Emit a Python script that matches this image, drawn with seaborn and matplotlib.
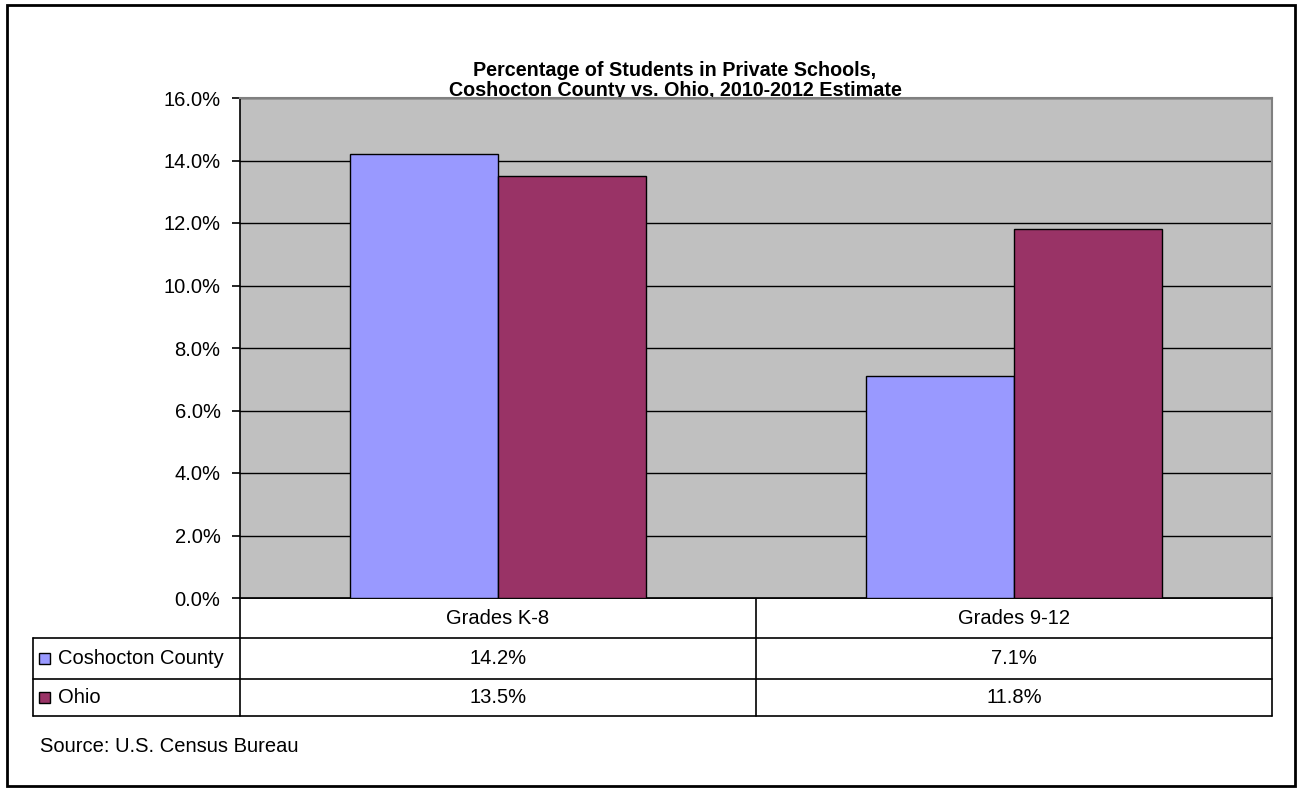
import numpy as np
import pandas as pd
import seaborn as sns
import matplotlib.pyplot as plt
from matplotlib.patches import Rectangle
from matplotlib.ticker import FuncFormatter

categories = ["Grades K-8", "Grades 9-12"]
series_names = ["Coshocton County", "Ohio"]
coshocton = [14.2, 7.1]
ohio = [13.5, 11.8]
colors = ["#9999FF", "#993366"]
y_ticks = [0, 2, 4, 6, 8, 10, 12, 14, 16]
title_lines = ["Percentage of Students in Private Schools,",
               "Coshocton County vs. Ohio, 2010-2012 Estimate"]
source = "Source: U.S. Census Bureau"

W, H = 1301, 788

df = pd.DataFrame({
    "grade": categories * 2,
    "area": [series_names[0]] * 2 + [series_names[1]] * 2,
    "pct": coshocton + ohio,
})

sns.set_theme(style="white")
plt.rcParams["font.family"] = ["Liberation Sans", "DejaVu Sans"]
plt.rcParams["text.color"] = "black"
plt.rcParams["ytick.color"] = "black"
plt.rcParams["ytick.labelcolor"] = "black"

fs = 14.5

fig = plt.figure(figsize=(W / 100, H / 100), dpi=100)

# pixel-coordinate overlay for frame, table, title
bg = fig.add_axes([0, 0, 1, 1], zorder=-1)
bg.set_xlim(0, W)
bg.set_ylim(H, 0)
bg.axis("off")

# plot area in pixels
L, R, T, B = 240, 1272, 98, 598
ax = fig.add_axes([L / W, (H - B) / H, (R - L) / W, (B - T) / H])
ax.set_facecolor("#C0C0C0")

sns.barplot(data=df, x="grade", y="pct", hue="area", palette=colors,
            saturation=1, width=0.574, edgecolor="black", linewidth=1,
            ax=ax, zorder=3)
ax.legend_.remove()
ax.set_ylim(0, 16)
ax.set_yticks(y_ticks)
ax.yaxis.set_major_formatter(FuncFormatter(lambda v, p: f"{v:.1f}%"))
ax.yaxis.grid(True, color="black", linewidth=1)
ax.set_axisbelow(True)
ax.set_xticks([])
ax.set_xlabel("")
ax.set_ylabel("")
ax.tick_params(axis="y", direction="out", length=6, width=1.2, color="black",
               labelsize=fs, labelcolor="black", pad=8, left=True)
for s in ["left", "bottom"]:
    ax.spines[s].set_color("black")
    ax.spines[s].set_linewidth(1.2)
for s in ["top", "right"]:
    ax.spines[s].set_color("#808080")
    ax.spines[s].set_linewidth(1.5)

# outer frame
bg.add_patch(Rectangle((7, 5), 1288, 781, fill=False, edgecolor="black", linewidth=2))

# title (second line is partly hidden behind the plot area, as in the source)
bg.text(675, 70, title_lines[0], ha="center", va="center", fontsize=14.2,
        fontweight="bold")
bg.text(675, 90.5, title_lines[1], ha="center", va="center", fontsize=14.2,
        fontweight="bold")

# data table
row_y = [598, 638, 679, 716]
tleft = 33
lw = 1.2
bg.plot([L, R], [row_y[0], row_y[0]], color="black", lw=lw)
for y in row_y[1:]:
    bg.plot([tleft, R], [y, y], color="black", lw=lw)
bg.plot([L, L], [row_y[0], row_y[-1]], color="black", lw=lw)
bg.plot([R, R], [row_y[0], row_y[-1]], color="black", lw=lw)
bg.plot([tleft, tleft], [row_y[1], row_y[-1]], color="black", lw=lw)
cat_w = (R - L) / len(categories)
for i in range(1, len(categories)):
    x = L + i * cat_w
    bg.plot([x, x], [row_y[0], row_y[-1]], color="black", lw=lw)

for i, cat in enumerate(categories):
    cx = L + (i + 0.5) * cat_w
    bg.text(cx, (row_y[0] + row_y[1]) / 2, cat, ha="center", va="center", fontsize=fs)
    for j, vals in enumerate([coshocton, ohio]):
        bg.text(cx, (row_y[j + 1] + row_y[j + 2]) / 2, f"{vals[i]:.1f}%",
                ha="center", va="center", fontsize=fs)

for j, name in enumerate(series_names):
    cy = (row_y[j + 1] + row_y[j + 2]) / 2
    bg.add_patch(Rectangle((39, cy - 5.5), 11, 11, facecolor=colors[j],
                           edgecolor="black", linewidth=1))
    bg.text(58, cy, name, ha="left", va="center", fontsize=fs)

bg.text(40, 746, source, ha="left", va="center", fontsize=fs)

plt.savefig("out.png", dpi=100)
